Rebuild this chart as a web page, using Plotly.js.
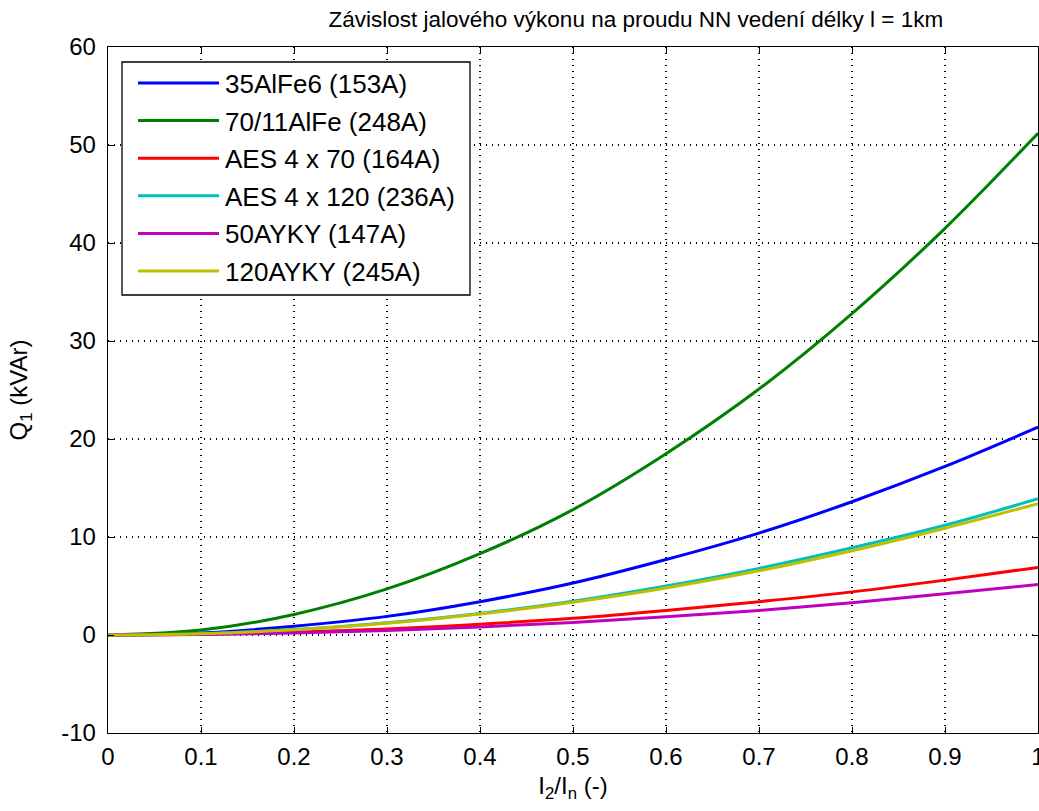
<!DOCTYPE html>
<html>
<head>
<meta charset="utf-8">
<script src="https://cdn.plot.ly/plotly-3.0.1.min.js"></script>
<style>html,body{margin:0;padding:0;background:#fff;}#chart{width:1039px;height:811px;}</style>
</head>
<body>
<div id="chart"></div>
<script>
// x values: I2/In (-)
const ratio = [0, 0.1, 0.2, 0.3, 0.4, 0.5, 0.6, 0.7, 0.8, 0.9, 1.0];
// Q1 (kVAr) per line type
const q35AlFe6   = [0, 0.2, 0.9, 1.9, 3.4, 5.3, 7.7, 10.4, 13.6, 17.2, 21.2];
const q70AlFe    = [0, 0.5, 2.1, 4.7, 8.3, 12.8, 18.5, 25.1, 32.8, 41.5, 51.2];
const qAES70     = [0, 0.07, 0.28, 0.62, 1.1, 1.7, 2.5, 3.4, 4.4, 5.6, 6.9];
const qAES120    = [0, 0.14, 0.55, 1.25, 2.2, 3.45, 5.0, 6.8, 8.9, 11.2, 13.9];
const q50AYKY    = [0, 0.05, 0.2, 0.46, 0.82, 1.28, 1.85, 2.5, 3.3, 4.2, 5.15];
const q120AYKY   = [0, 0.13, 0.54, 1.2, 2.15, 3.35, 4.8, 6.55, 8.6, 10.9, 13.4];

const seriesNames = ["35AlFe6 (153A)", "70/11AlFe (248A)", "AES 4 x 70 (164A)", "AES 4 x 120 (236A)", "50AYKY (147A)", "120AYKY (245A)"];
const seriesValues = [q35AlFe6, q70AlFe, qAES70, qAES120, q50AYKY, q120AYKY];
const seriesColors = ["#0000FF", "#008000", "#FF0000", "#00BFBF", "#BF00BF", "#BFBF00"];

const xTicks = [0, 0.1, 0.2, 0.3, 0.4, 0.5, 0.6, 0.7, 0.8, 0.9, 1];
const xTickText = ["0", "0.1", "0.2", "0.3", "0.4", "0.5", "0.6", "0.7", "0.8", "0.9", "1"];
const yTicks = [-10, 0, 10, 20, 30, 40, 50, 60];
const yTickText = ["-10", "0", "10", "20", "30", "40", "50", "60"];

const FONT = "Liberation Sans, Arial, sans-serif";

const traces = seriesNames.map((n, i) => ({
  x: ratio, y: seriesValues[i], name: n, type: "scatter", mode: "lines",
  line: {color: seriesColors[i], width: 3, shape: "spline", smoothing: 1},
  showlegend: false, hoverinfo: "skip"
}));

// custom MATLAB-like legend
const W = 930, H = 686, L = 108, T = 47;
const px = v => (v - L) / W;
const py = v => (T + H - v) / H;
const shapes = [{
  type: "rect", xref: "paper", yref: "paper",
  x0: px(122), x1: px(470), y0: py(62), y1: py(295),
  line: {color: "#000", width: 1.3}, fillcolor: "#fff", layer: "above"
}];
const annotations = [];
seriesNames.forEach((n, i) => {
  const yc = 83 + i * 37.6;
  shapes.push({type: "line", xref: "paper", yref: "paper",
    x0: px(138), x1: px(219), y0: py(yc), y1: py(yc),
    line: {color: seriesColors[i], width: 3}, layer: "above"});
  annotations.push({xref: "paper", yref: "paper", x: px(223), y: py(yc + 1),
    xanchor: "left", yanchor: "middle", text: n, showarrow: false,
    font: {family: FONT, size: 26, color: "#000"}});
});

const layout = {
  width: 1039, height: 811,
  margin: {l: 108, r: 1, t: 47, b: 78, pad: 0},
  paper_bgcolor: "#fff", plot_bgcolor: "#fff",
  font: {family: FONT, size: 24, color: "#000"},
  title: {text: "Závislost jalového výkonu na proudu NN vedení délky l = 1km",
    font: {family: FONT, size: 22.5, color: "#000"}, x: 0.612, xanchor: "center", y: 0.977, yanchor: "middle"},
  xaxis: {
    range: [0, 1], tickvals: xTicks, ticktext: xTickText, ticklabeloverflow: "allow",
    showgrid: true, gridcolor: "#000", griddash: "1px,5px", gridwidth: 1.2,
    zeroline: false, showline: true, linecolor: "#000", linewidth: 1.3, mirror: "ticks",
    ticks: "inside", ticklen: 6, tickcolor: "#000", ticklabelstandoff: 2,
    tickfont: {family: FONT, size: 24, color: "#000"},
    title: {text: "I<sub>2</sub>/I<sub>n</sub> (-)", font: {family: FONT, size: 24, color: "#000"}, standoff: 8}
  },
  yaxis: {
    range: [-10, 60], tickvals: yTicks, ticktext: yTickText,
    showgrid: true, gridcolor: "#000", griddash: "1px,5px", gridwidth: 1.2,
    zeroline: false, showline: true, linecolor: "#000", linewidth: 1.3, mirror: "ticks",
    ticks: "inside", ticklen: 6, tickcolor: "#000", ticklabelstandoff: 6,
    tickfont: {family: FONT, size: 24, color: "#000"},
    title: {text: "Q<sub>1</sub> (kVAr)", font: {family: FONT, size: 24, color: "#000"}, standoff: 26}
  },
  shapes: shapes,
  annotations: annotations,
  showlegend: false
};

Plotly.newPlot("chart", traces, layout, {staticPlot: true, displayModeBar: false});
</script>
</body>
</html>
